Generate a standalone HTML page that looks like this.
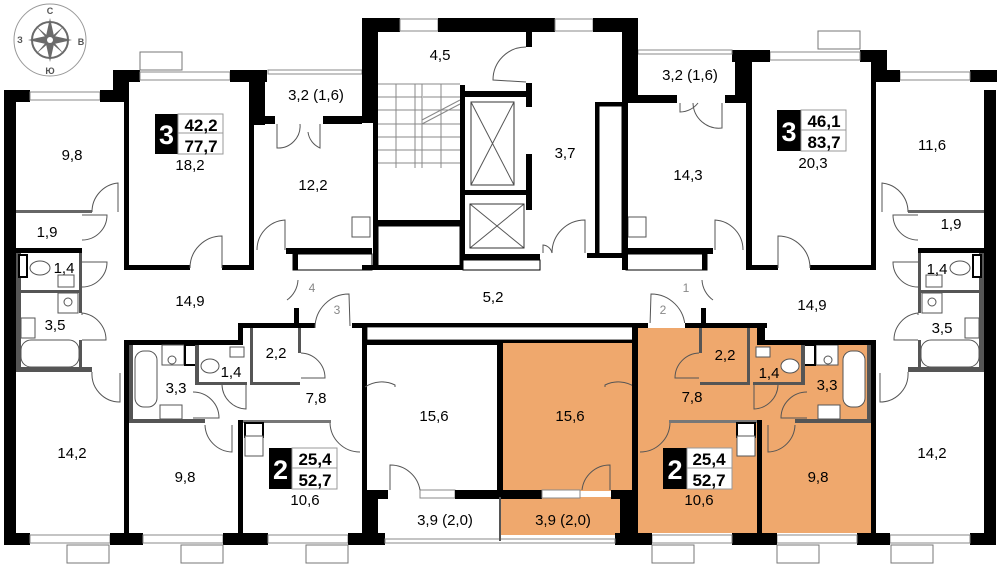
<!DOCTYPE html>
<html><head><meta charset="utf-8"><style>
html,body{margin:0;padding:0;background:#fff;}
svg{display:block;}
text{font-family:"Liberation Sans","DejaVu Sans",sans-serif;}
</style></head><body>
<svg width="1000" height="566" viewBox="0 0 1000 566" xmlns="http://www.w3.org/2000/svg">
<defs>
<g id="half">
  <rect x="4" y="90" width="12" height="455" fill="#000"/>
  <rect x="4" y="533" width="26" height="12" fill="#000"/>
  <rect x="30" y="535" width="80" height="8" fill="#fff" stroke="#888" stroke-width="1"/>
  <rect x="110" y="533" width="33" height="12" fill="#000"/>
  <rect x="143" y="535" width="80" height="8" fill="#fff" stroke="#888" stroke-width="1"/>
  <rect x="223" y="533" width="45" height="12" fill="#000"/>
  <rect x="268" y="535" width="80" height="8" fill="#fff" stroke="#888" stroke-width="1"/>
  <rect x="348" y="533" width="37" height="12" fill="#000"/>
  <rect x="67" y="545" width="42" height="18" fill="none" stroke="#777" stroke-width="1"/>
  <rect x="181" y="545" width="42" height="18" fill="none" stroke="#777" stroke-width="1"/>
  <rect x="306" y="545" width="42" height="18" fill="none" stroke="#777" stroke-width="1"/>
  <rect x="124" y="265" width="66" height="5" fill="#000"/>
  <rect x="222" y="265" width="32" height="5" fill="#000"/>
  <rect x="124" y="100" width="5" height="170" fill="#000"/>
  <rect x="249" y="100" width="5" height="170" fill="#000"/>
  <rect x="16" y="210" width="76" height="3" fill="#666"/>
  <rect x="16" y="248" width="66" height="5" fill="#000"/>
  <rect x="16" y="253" width="5" height="117" fill="#555"/>
  <rect x="79" y="253" width="3" height="37" fill="#555"/>
  <rect x="19" y="255" width="8" height="22" fill="#fff" stroke="#000" stroke-width="2"/>
  <ellipse cx="40" cy="268" rx="10" ry="7" fill="#fff" stroke="#555"/>
  <rect x="58" y="275" width="16" height="12" fill="#fff" stroke="#555"/>
  <rect x="16" y="290" width="66" height="3" fill="#555"/>
  <rect x="58" y="293" width="20" height="20" fill="#fff" stroke="#555"/>
  <circle cx="68" cy="302" r="4" fill="none" stroke="#555"/>
  <rect x="21" y="318" width="14" height="20" fill="#fff" stroke="#555"/>
  <rect x="79" y="293" width="3" height="20" fill="#555"/>
  <rect x="21" y="340" width="58" height="27" rx="10" fill="#fff" stroke="#555"/>
  <rect x="16" y="367" width="76" height="5" fill="#555"/>
  <rect x="79" y="340" width="3" height="30" fill="#555"/>
  <g fill="none" stroke="#555" stroke-width="1">
    <path d="M118,212 L118,183 A29,29 0 0 0 92,212"/>
    <path d="M82,215 L107,215 A25,25 0 0 1 82,240"/>
    <path d="M190,268 A32,32 0 0 1 222,236 L222,268"/>
    <path d="M257,250 A30,30 0 0 1 285,220 L285,250"/>
    <path d="M82,262 L107,262 A25,25 0 0 1 82,287"/>
    <path d="M82,315 L82,313 A27,27 0 0 1 106,340 L82,340"/>
    <path d="M92,372 A28,28 0 0 0 120,402 L120,373"/>
    <path d="M287,300 A26,26 0 0 0 298,280"/>
  </g>
  <rect x="124" y="340" width="119" height="5" fill="#000"/>
  <rect x="124" y="340" width="5" height="193" fill="#000"/>
  <rect x="238" y="323" width="5" height="22" fill="#000"/>
  <rect x="238" y="323" width="77" height="5" fill="#000"/>
  <rect x="294" y="308" width="5" height="20" fill="#000"/>
  <rect x="352" y="323" width="16" height="5" fill="#000"/>
  <rect x="362" y="323" width="5" height="210" fill="#000"/>
  <rect x="238" y="420" width="5" height="113" fill="#000"/>
  <rect x="129" y="345" width="4" height="78" fill="#555"/>
  <rect x="129" y="419" width="76" height="4" fill="#555"/>
  <rect x="243" y="420" width="88" height="3" fill="#777"/>
  <rect x="135" y="351" width="22" height="56" rx="9" fill="#fff" stroke="#555"/>
  <rect x="162" y="345" width="22" height="20" fill="#fff" stroke="#555"/>
  <circle cx="172" cy="360" r="4" fill="none" stroke="#555"/>
  <rect x="160" y="405" width="22" height="14" fill="#fff" stroke="#555"/>
  <rect x="185" y="345" width="12" height="20" fill="#fff" stroke="#000" stroke-width="2"/>
  <rect x="195" y="345" width="4" height="40" fill="#555"/>
  <rect x="197" y="382" width="50" height="3" fill="#555"/>
  <ellipse cx="210" cy="366" rx="9" ry="7" fill="#fff" stroke="#555"/>
  <rect x="230" y="347" width="14" height="10" fill="#fff" stroke="#555"/>
  <rect x="250" y="328" width="3" height="57" fill="#555"/>
  <rect x="250" y="382" width="50" height="3" fill="#555"/>
  <rect x="298" y="328" width="3" height="25" fill="#555"/>
  <rect x="245" y="423" width="18" height="14" fill="#fff" stroke="#000" stroke-width="2"/>
  <rect x="245" y="436" width="18" height="20" fill="#fff" stroke="#555"/>
  <g fill="none" stroke="#555" stroke-width="1">
    <path d="M205,425 A28,28 0 0 0 232,452 L232,425"/>
    <path d="M193,392 A26,26 0 0 1 219,418 L193,418"/>
    <path d="M222,385 A25,25 0 0 0 246,409 L246,385"/>
    <path d="M301,353 A25,25 0 0 1 325,378 L301,378"/>
    <path d="M330,423 A30,30 0 0 0 360,452"/>
    <path d="M365,387 A30,30 0 0 1 395,385 L395,387"/>
    <path d="M315,328 A34,34 0 0 1 349,294 L350,326"/>
  </g>
</g>
</defs>

<rect x="637" y="326" width="123" height="207" fill="#EFA86D"/>
<rect x="760" y="343" width="111" height="190" fill="#EFA86D"/>
<rect x="503" y="343" width="130" height="148" fill="#EFA86D"/>
<rect x="500" y="497" width="120" height="38" fill="#EFA86D"/>

<use href="#half"/>
<use href="#half" transform="matrix(-1,0,0,1,1000,0)"/>

<rect x="4" y="90" width="26" height="12" fill="#000"/>
<rect x="30" y="92" width="70" height="8" fill="#fff" stroke="#888"/>
<rect x="100" y="90" width="29" height="12" fill="#000"/>
<rect x="113" y="70" width="16" height="32" fill="#000"/>
<rect x="113" y="70" width="27" height="12" fill="#000"/>
<rect x="140" y="52" width="42" height="18" fill="none" stroke="#777"/>
<rect x="140" y="72" width="90" height="8" fill="#fff" stroke="#888"/>
<rect x="230" y="70" width="37" height="12" fill="#000"/>
<rect x="249" y="82" width="16" height="43" fill="#000"/>
<rect x="268" y="70" width="94" height="4" fill="#fff" stroke="#888"/>
<rect x="265" y="116" width="10" height="8" fill="#000"/>
<rect x="323" y="116" width="39" height="8" fill="#000"/>
<rect x="286" y="248" width="86" height="6" fill="#000"/>
<rect x="293" y="254" width="79" height="16" fill="#fff" stroke="#000"/>
<rect x="293" y="254" width="5" height="16" fill="#000"/>
<rect x="352" y="217" width="18" height="20" fill="#fff" stroke="#555"/>
<g fill="none" stroke="#555"><path d="M277,124 L277,148 A22,22 0 0 0 300,124"/><path d="M320,124 L320,148 A20,20 0 0 1 308,132"/></g>

<rect x="970" y="70" width="27" height="12" fill="#000"/>
<rect x="900" y="72" width="70" height="8" fill="#fff" stroke="#888"/>
<rect x="871" y="70" width="29" height="12" fill="#000"/>
<rect x="871" y="50" width="16" height="32" fill="#000"/>
<rect x="860" y="50" width="27" height="12" fill="#000"/>
<rect x="818" y="31" width="42" height="18" fill="none" stroke="#777"/>
<rect x="770" y="52" width="90" height="8" fill="#fff" stroke="#888"/>
<rect x="732" y="50" width="38" height="12" fill="#000"/>
<rect x="735" y="60" width="17" height="43" fill="#000"/>
<rect x="638" y="50" width="94" height="4" fill="#fff" stroke="#888"/>
<rect x="725" y="95" width="12" height="8" fill="#000"/>
<rect x="622" y="95" width="55" height="8" fill="#000"/>
<rect x="747" y="80" width="5" height="190" fill="#000"/>
<rect x="871" y="80" width="5" height="190" fill="#000"/>
<rect x="626" y="248" width="87" height="6" fill="#000"/>
<rect x="626" y="254" width="81" height="16" fill="#fff" stroke="#000"/>
<rect x="702" y="254" width="5" height="16" fill="#000"/>
<rect x="628" y="217" width="18" height="20" fill="#fff" stroke="#555"/>
<g fill="none" stroke="#555"><path d="M680,103 L680,112 A23,23 0 0 0 698,103"/><path d="M722,103 L722,128 A26,26 0 0 1 693,103"/></g>

<rect x="362" y="18" width="38" height="14" fill="#000"/>
<rect x="400" y="19" width="38" height="12" fill="#fff" stroke="#888"/>
<rect x="438" y="18" width="117" height="14" fill="#000"/>
<rect x="555" y="19" width="38" height="12" fill="#fff" stroke="#888"/>
<rect x="593" y="18" width="45" height="14" fill="#000"/>
<rect x="362" y="18" width="16" height="105" fill="#000"/>
<rect x="373" y="120" width="5" height="150" fill="#000"/>
<rect x="622" y="18" width="16" height="85" fill="#000"/>
<g stroke="#888" stroke-width="1">
<line x1="378" y1="84" x2="460" y2="84"/><line x1="378" y1="97" x2="422" y2="97"/><line x1="423" y1="97" x2="460" y2="97"/>
<line x1="378" y1="110" x2="460" y2="110"/><line x1="378" y1="124" x2="460" y2="124"/><line x1="378" y1="137" x2="460" y2="137"/>
<line x1="378" y1="150" x2="460" y2="150"/><line x1="378" y1="163" x2="460" y2="163"/>
<line x1="396" y1="84" x2="396" y2="168"/><line x1="415" y1="84" x2="415" y2="168"/><line x1="422" y1="84" x2="422" y2="168"/><line x1="441" y1="84" x2="441" y2="168"/>
<line x1="422" y1="120" x2="460" y2="100"/><line x1="422" y1="124" x2="460" y2="104"/>
</g>
<rect x="378" y="220" width="82" height="6" fill="#000"/>
<rect x="378" y="226" width="82" height="42" fill="#fff" stroke="#000"/>
<rect x="362" y="265" width="98" height="5" fill="#000"/>
<rect x="460" y="85" width="5" height="185" fill="#000"/>
<rect x="465" y="91" width="62" height="6" fill="#000"/>
<rect x="526" y="83" width="6" height="24" fill="#000"/>
<rect x="526" y="32" width="6" height="15" fill="#000"/>
<rect x="471" y="102" width="43" height="83" fill="none" stroke="#333"/>
<g stroke="#555"><line x1="471" y1="102" x2="514" y2="185"/><line x1="514" y1="102" x2="471" y2="185"/>
<line x1="470" y1="204" x2="524" y2="248"/><line x1="524" y1="204" x2="470" y2="248"/></g>
<rect x="465" y="190" width="62" height="5" fill="#000"/>
<rect x="526" y="154" width="6" height="56" fill="#000"/>
<rect x="470" y="204" width="54" height="44" fill="none" stroke="#333"/>
<rect x="465" y="254" width="75" height="6" fill="#000"/>
<rect x="463" y="260" width="77" height="10" fill="#fff" stroke="#000"/>
<rect x="595" y="102" width="27" height="4" fill="#000"/>
<rect x="595" y="102" width="4" height="153" fill="#000"/>
<rect x="599" y="106" width="23" height="149" fill="#fff" stroke="#000"/>
<rect x="622" y="100" width="6" height="170" fill="#000"/>
<rect x="587" y="253" width="39" height="5" fill="#000"/>
<g fill="none" stroke="#555"><path d="M526,47 A33,33 0 0 0 493,80 L526,82"/><path d="M585,253 L585,220 A33,33 0 0 0 552,253"/><path d="M543,253 L543,245 A10,10 0 0 1 552,253"/></g>

<rect x="367" y="323" width="270" height="4" fill="#000"/>
<rect x="367" y="327" width="270" height="13" fill="#fff" stroke="#000" stroke-width="0.8"/>
<rect x="362" y="340" width="138" height="5" fill="#000"/>
<rect x="503" y="340" width="130" height="3" fill="#000"/>
<rect x="497" y="340" width="6" height="155" fill="#000"/>
<rect x="632" y="323" width="5" height="167" fill="#000"/>
<rect x="760" y="328" width="5" height="17" fill="#000"/>
<rect x="760" y="340" width="116" height="5" fill="#000"/>
<rect x="632" y="323" width="135" height="5" fill="#000"/>
<rect x="648" y="323" width="37" height="5" fill="#fff"/>
<rect x="362" y="490" width="26" height="9" fill="#000"/>
<rect x="420" y="490" width="35" height="8" fill="#fff" stroke="#888"/>
<rect x="455" y="490" width="87" height="9" fill="#000"/>
<rect x="542" y="490" width="38" height="8" fill="#fff" stroke="#888"/>
<rect x="611" y="490" width="26" height="9" fill="#000"/>
<rect x="362" y="497" width="16" height="38" fill="#000"/>
<rect x="620" y="497" width="17" height="38" fill="#000"/>
<rect x="385" y="539" width="230" height="4" fill="#fff" stroke="#888"/>
<line x1="500" y1="497" x2="500" y2="541" stroke="#555" stroke-width="2"/>
<g fill="none" stroke="#555"><path d="M390,490 L390,465 A30,30 0 0 1 420,490"/><path d="M610,490 L610,465 A28,28 0 0 0 582,490"/></g>

<g fill="#888" font-size="12" text-anchor="middle">
<text x="312" y="292">4</text><text x="337" y="314">3</text><text x="686" y="292">1</text><text x="663" y="314">2</text>
</g>

<g font-size="15" text-anchor="middle" fill="#000">
<text x="72" y="160">9,8</text><text x="190" y="170">18,2</text><text x="316" y="100">3,2 (1,6)</text>
<text x="440" y="60">4,5</text><text x="313" y="190">12,2</text><text x="47" y="237">1,9</text>
<text x="64" y="273">1,4</text><text x="55" y="330">3,5</text><text x="190" y="306">14,9</text>
<text x="493" y="302">5,2</text><text x="565" y="158">3,7</text><text x="688" y="180">14,3</text>
<text x="690" y="80">3,2 (1,6)</text><text x="813" y="168">20,3</text><text x="932" y="150">11,6</text>
<text x="951" y="229">1,9</text><text x="937" y="274">1,4</text><text x="942" y="333">3,5</text>
<text x="812" y="310">14,9</text><text x="276" y="358">2,2</text><text x="231" y="377">1,4</text>
<text x="176" y="393">3,3</text><text x="316" y="403">7,8</text><text x="434" y="421">15,6</text>
<text x="570" y="421">15,6</text><text x="692" y="402">7,8</text><text x="725" y="360">2,2</text>
<text x="769" y="378">1,4</text><text x="827" y="390">3,3</text><text x="72" y="458">14,2</text>
<text x="185" y="482">9,8</text><text x="305" y="505">10,6</text><text x="445" y="525">3,9 (2,0)</text>
<text x="563" y="525">3,9 (2,0)</text><text x="699" y="505">10,6</text><text x="818" y="482">9,8</text>
<text x="932" y="458">14,2</text>
</g>

<g>
<rect x="155" y="114" width="23" height="40" fill="#000"/><rect x="178" y="114" width="45" height="40" fill="#fff" stroke="#999"/><line x1="178" y1="133" x2="223" y2="133" stroke="#999"/>
<text x="166.5" y="144" fill="#fff" font-size="27" font-weight="bold" text-anchor="middle">3</text>
<text x="201" y="131" font-size="17" font-weight="bold" text-anchor="middle">42,2</text>
<text x="201" y="152" font-size="17" font-weight="bold" text-anchor="middle">77,7</text>

<rect x="777" y="110" width="24" height="41" fill="#000"/><rect x="801" y="110" width="45" height="41" fill="#fff" stroke="#999"/><line x1="801" y1="130" x2="846" y2="130" stroke="#999"/>
<text x="789" y="141" fill="#fff" font-size="27" font-weight="bold" text-anchor="middle">3</text>
<text x="824" y="127" font-size="17" font-weight="bold" text-anchor="middle">46,1</text>
<text x="824" y="148" font-size="17" font-weight="bold" text-anchor="middle">83,7</text>

<rect x="269" y="448" width="23" height="41" fill="#000"/><rect x="292" y="448" width="45" height="41" fill="#fff" stroke="#999"/><line x1="292" y1="468" x2="337" y2="468" stroke="#999"/>
<text x="280.5" y="479" fill="#fff" font-size="27" font-weight="bold" text-anchor="middle">2</text>
<text x="315" y="465" font-size="17" font-weight="bold" text-anchor="middle">25,4</text>
<text x="315" y="486" font-size="17" font-weight="bold" text-anchor="middle">52,7</text>

<rect x="663" y="448" width="24" height="41" fill="#000"/><rect x="687" y="448" width="45" height="41" fill="#fff" stroke="#999"/><line x1="687" y1="468" x2="732" y2="468" stroke="#999"/>
<text x="675" y="479" fill="#fff" font-size="27" font-weight="bold" text-anchor="middle">2</text>
<text x="709" y="465" font-size="17" font-weight="bold" text-anchor="middle">25,4</text>
<text x="709" y="486" font-size="17" font-weight="bold" text-anchor="middle">52,7</text>
</g>

<g>
<circle cx="50" cy="40" r="36" fill="#fff" stroke="#999"/>
<circle cx="50" cy="40" r="18" fill="none" stroke="#6a6a6a" stroke-width="2"/>
<polygon points="50,18 54,36 72,40 54,44 50,62 46,44 28,40 46,36" fill="#6a6a6a"/>
<polygon points="36,26 50,38 64,26 52,40 64,54 50,42 36,54 48,40" fill="#6a6a6a"/>
<circle cx="50" cy="40" r="3" fill="#fff"/>
<g font-size="9" fill="#555" text-anchor="middle" font-weight="bold">
<text x="50" y="14">С</text><text x="50" y="74">Ю</text><text x="20" y="43">З</text><text x="81" y="45">В</text>
</g>
</g>
</svg>
</body></html>
